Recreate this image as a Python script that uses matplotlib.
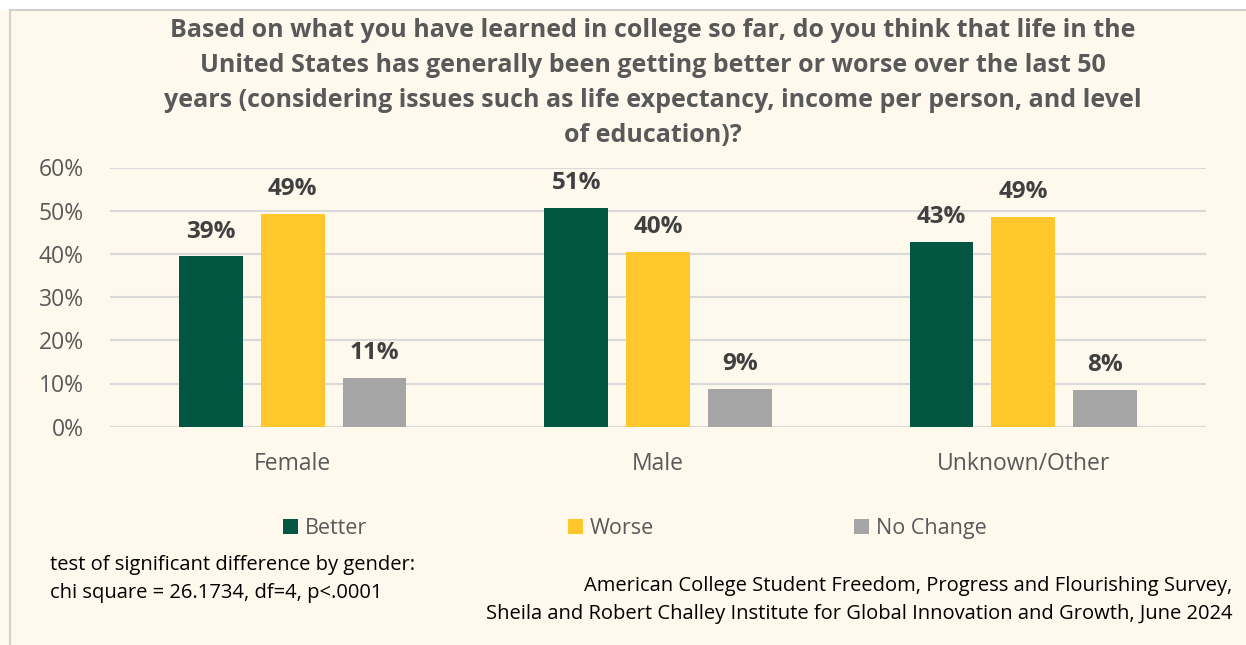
import matplotlib
matplotlib.use("Agg")
import matplotlib.pyplot as plt
from matplotlib.patches import Patch, Rectangle
from matplotlib.ticker import PercentFormatter
import numpy as np

plt.rcParams["font.family"] = ["Open Sans", "DejaVu Sans"]

categories = ["Female", "Male", "Unknown/Other"]
series_names = ["Better", "Worse", "No Change"]
better = [39.4, 50.7, 42.8]
worse = [49.3, 40.4, 48.6]
no_change = [11.2, 8.7, 8.4]
yticks = [0, 10, 20, 30, 40, 50, 60]

title = ("Based on what you have learned in college so far, do you think that life in the\n"
         "United States has generally been getting better or worse over the last 50\n"
         "years (considering issues such as life expectancy, income per person, and level\n"
         "of education)?")
note_left = "test of significant difference by gender:\nchi square = 26.1734, df=4, p<.0001"
note_right = ("American College Student Freedom, Progress and Flourishing Survey,\n"
              "Sheila and Robert Challey Institute for Global Innovation and Growth, June 2024")

colors = ["#035642", "#FFC72C", "#A5A5A5"]
bg = "#FEF9EC"
text_gray = "#595959"
label_gray = "#404040"

W, H = 1246, 645
fig = plt.figure(figsize=(W / 100, H / 100), dpi=100)
fig.patch.set_facecolor(bg)

# white strip and thin frame around the chart area
fig.patches.append(Rectangle((0, 1 - 10 / H), 1, 10 / H, transform=fig.transFigure,
                             facecolor="white", edgecolor="none", zorder=0))
fig.add_artist(plt.Line2D([10 / W, 10 / W], [0, 1 - 10 / H], color="#D0D0D0", lw=1.5))
fig.add_artist(plt.Line2D([10 / W, 1], [1 - 10 / H, 1 - 10 / H], color="#D0D0D0", lw=1.5))

ax_left, ax_right = 110 / W, 1206 / W
ax_bottom, ax_top = 1 - 426.7 / H, 1 - 167.5 / H
ax = fig.add_axes([ax_left, ax_bottom, ax_right - ax_left, ax_top - ax_bottom])
ax.set_facecolor(bg)

x = np.arange(len(categories))
width = 0.175
offset = 0.224
for i, (vals, name, c) in enumerate(zip([better, worse, no_change], series_names, colors)):
    pos = x + (i - 1) * offset
    ax.bar(pos, vals, width, color=c, zorder=3)
    for p, v in zip(pos, vals):
        ax.text(p, v + 3.0, f"{v:.0f}%", ha="center", va="bottom", fontsize=17.5,
                fontweight="bold", color=label_gray)

ax.set_xlim(-0.5, len(categories) - 0.5)
ax.set_ylim(0, 60)
ax.set_yticks(yticks)
ax.yaxis.set_major_formatter(PercentFormatter(decimals=0))
ax.grid(axis="y", color="#D9D9D9", lw=1.5, zorder=0)
ax.set_axisbelow(True)
for s in ax.spines.values():
    s.set_visible(False)
ax.tick_params(axis="both", length=0, colors=text_gray)
ax.tick_params(axis="y", pad=19, labelsize=16.5)
ax.tick_params(axis="x", pad=18, labelsize=16.5)
ax.set_xticks(x)
ax.set_xticklabels(categories)

fig.text(653 / W, 1 - 83 / H, title, ha="center", va="center", fontsize=18,
         fontweight="bold", color=text_gray, linespacing=1.53)

handles = [Patch(facecolor=c, edgecolor="none") for c in colors]
fig.legend(handles, series_names, loc="center", bbox_to_anchor=(635 / W, 1 - 528.5 / H),
           ncol=3, frameon=False, fontsize=15.5, labelcolor=text_gray,
           handlelength=0.7, handleheight=0.7, handletextpad=0.33, columnspacing=9.3)

fig.text(50 / W, 1 - 579 / H, note_left, ha="left", va="center", fontsize=14.5,
         color="black", linespacing=1.58)
fig.text(1232 / W, 1 - 600 / H, note_right, ha="right", va="center", fontsize=14.5,
         color="black", linespacing=1.58)

fig.savefig("out.png", dpi=100, facecolor=bg)
